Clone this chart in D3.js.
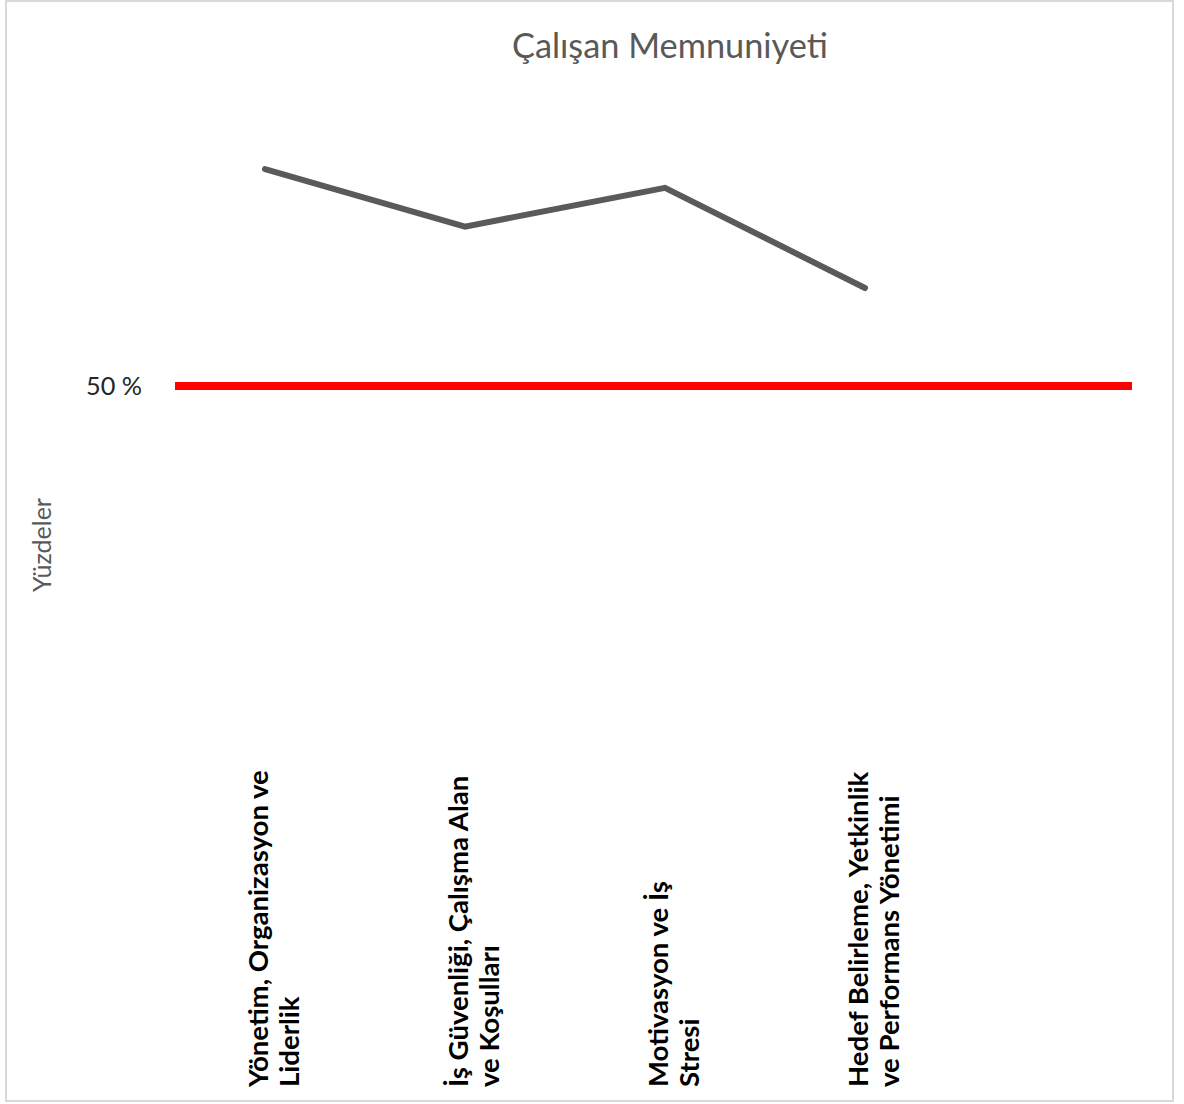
<!DOCTYPE html>
<html><head><meta charset="utf-8">
<script src="https://cdn.jsdelivr.net/npm/d3@7"></script>
<style>
html,body{margin:0;padding:0;background:#fff;}
svg{display:block;}
</style></head>
<body>
<svg id="chart" width="1184" height="1104"></svg>
<script>
// ---- data ----
const title = "Çalışan Memnuniyeti";
const yAxisTitle = "Yüzdeler";
const categories = [
  "Yönetim, Organizasyon ve Liderlik",
  "İş Güvenliği, Çalışma Alan ve Koşulları",
  "Motivasyon ve İş Stresi",
  "Hedef Belirleme, Yetkinlik ve Performans Yönetimi"
];
const categoryLines = [
  ["Yönetim, Organizasyon ve", "Liderlik"],
  ["İş Güvenliği, Çalışma Alan", "ve Koşulları"],
  ["Motivasyon ve İş", "Stresi"],
  ["Hedef Belirleme, Yetkinlik", "ve Performans Yönetimi"]
];
const satisfaction = [79.0, 71.3, 76.5, 63.1];
const thresholdValue = 50;
const thresholdLabel = "50 %";

// ---- layout ----
const svg = d3.select("#chart");
const FONT = "Lato, 'Open Sans', sans-serif";

svg.append("rect").attr("x", 6).attr("y", 1).attr("width", 1167).attr("height", 1100)
  .attr("fill", "#fff").attr("stroke", "#d9d9d9").attr("stroke-width", 2);

const x = d3.scaleBand().domain(categories).range([165, 965]);
const y = d3.scaleLinear().domain([0, 100]).range([760, 12]);
const thresholdSpan = [175, 1132];

function fit(sel, target) {
  const w = sel.node().getComputedTextLength();
  const fs = parseFloat(sel.attr("font-size"));
  sel.attr("font-size", (fs * target / w).toFixed(2));
}

// title
const t = svg.append("text").attr("x", 670).attr("y", 58).attr("text-anchor", "middle")
  .attr("font-family", FONT).attr("font-size", 28).attr("fill", "#595959").text(title);
fit(t, 316);

// y axis title
const yt = svg.append("text").attr("transform", "translate(51,545) rotate(-90)")
  .attr("text-anchor", "middle").attr("font-family", FONT).attr("font-size", 18)
  .attr("fill", "#595959").text(yAxisTitle);
fit(yt, 94);

// threshold line
svg.append("line")
  .attr("x1", thresholdSpan[0]).attr("x2", thresholdSpan[1])
  .attr("y1", y(thresholdValue)).attr("y2", y(thresholdValue))
  .attr("stroke", "#ff0000").attr("stroke-width", 8);

const tl = svg.append("text").attr("x", 142).attr("y", y(thresholdValue)).attr("dy", "0.35em")
  .attr("text-anchor", "end").attr("font-family", FONT).attr("font-size", 22)
  .attr("fill", "#262626").text(thresholdLabel);
fit(tl, 56);

// series line
const line = d3.line()
  .x((d, i) => x(categories[i]) + x.bandwidth() / 2)
  .y(d => y(d));
svg.append("path").datum(satisfaction).attr("d", line)
  .attr("fill", "none").attr("stroke", "#5a5a5a").attr("stroke-width", 6)
  .attr("stroke-linejoin", "miter").attr("stroke-linecap", "round");

// category labels (rotated, reading bottom-to-top)
const labelG = svg.append("g");
const labels = labelG.selectAll("text").data(categories).join("text")
  .attr("transform", d => `translate(${x(d) + x.bandwidth() / 2 + 3},1087) rotate(-90)`)
  .attr("text-anchor", "start").attr("font-family", FONT).attr("font-weight", "bold")
  .attr("font-size", 22).attr("fill", "#000");
labels.each(function(d, i) {
  const el = d3.select(this);
  categoryLines[i].forEach((ln, j) => {
    el.append("tspan").attr("x", 0).attr("y", j * 31).text(ln);
  });
});
const probe = labels.filter((d, i) => i === 0).select("tspan").node();
const pw = probe.getComputedTextLength();
labels.attr("font-size", (22 * 317 / pw).toFixed(2));
</script>
</body></html>
